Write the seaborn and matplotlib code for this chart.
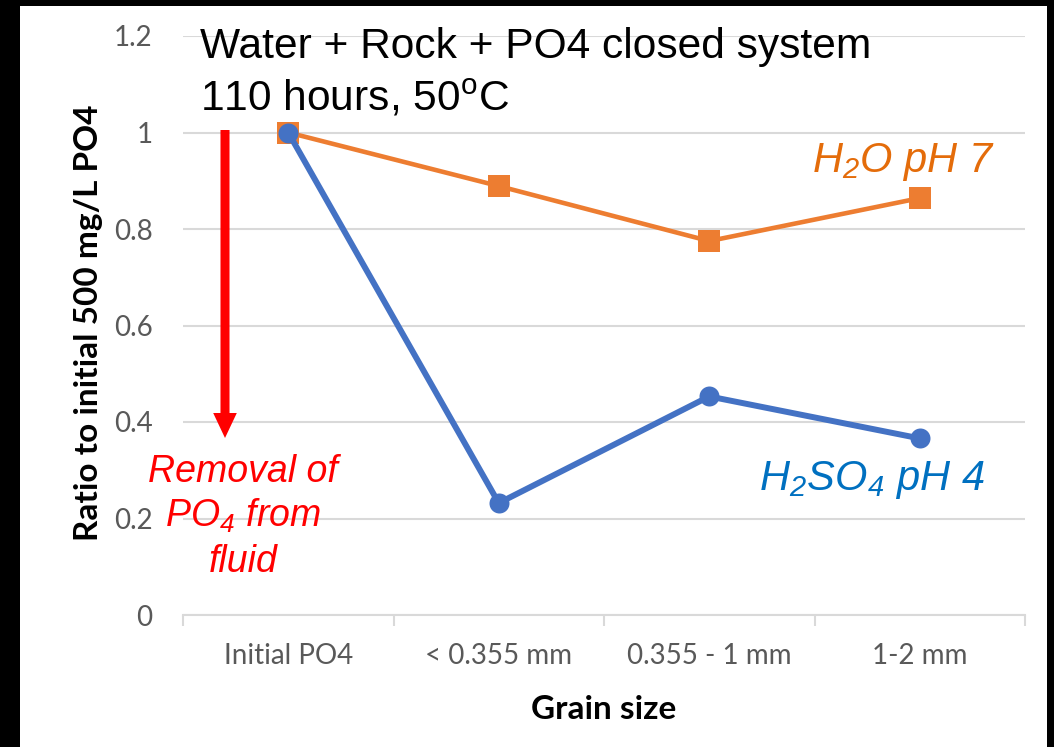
import pandas as pd
import seaborn as sns
import matplotlib
import matplotlib.pyplot as plt
from matplotlib.patches import Rectangle

matplotlib.use('agg')

# chart data
grain_sizes = ["Initial PO4", "< 0.355 mm", "0.355 - 1 mm", "1-2 mm"]
h2o_ph7 = [1.0, 0.889, 0.775, 0.864]
h2so4_ph4 = [1.0, 0.232, 0.453, 0.366]
y_ticks = [0, 0.2, 0.4, 0.6, 0.8, 1.0, 1.2]
y_tick_labels = ["0", "0.2", "0.4", "0.6", "0.8", "1", "1.2"]

sns.set_theme(style="white")
plt.rcParams['font.family'] = ['Lato', 'DejaVu Sans']
plt.rcParams['mathtext.fontset'] = 'custom'
plt.rcParams['mathtext.rm'] = 'Liberation Sans:italic'
plt.rcParams['mathtext.it'] = 'Liberation Sans:italic'
plt.rcParams['mathtext.sf'] = 'Liberation Sans'

df_h2o = pd.DataFrame({"Grain size": grain_sizes, "ratio": h2o_ph7})
df_acid = pd.DataFrame({"Grain size": grain_sizes, "ratio": h2so4_ph4})

fig = plt.figure(figsize=(10.54, 7.47), dpi=100, facecolor='black')
# white slide area inside black frame
fig.patches.append(Rectangle((20 / 1054, 0), (1047 - 20) / 1054, (747 - 6) / 747,
                             transform=fig.transFigure, facecolor='white',
                             edgecolor='none', zorder=-10))
ax = fig.add_axes([183 / 1054, 1 - 615 / 747, (1025 - 183) / 1054, (615 - 36) / 747])
ax.set_facecolor('none')
ax.set_zorder(1)

orange = '#ED7D31'
blue = '#4472C4'

sns.lineplot(data=df_h2o, x="Grain size", y="ratio", ax=ax, color=orange,
             linewidth=3.3, marker='s', markersize=16.5, markeredgewidth=0,
             sort=False, zorder=3)
sns.lineplot(data=df_acid, x="Grain size", y="ratio", ax=ax, color=blue,
             linewidth=4.3, marker='o', markersize=14.4, markeredgewidth=0,
             sort=False, zorder=4)

ax.set_ylim(0, 1.2)
ax.set_xlim(-0.5, 3.5)
ax.set_yticks(y_ticks)
ax.set_yticklabels(y_tick_labels)
ax.yaxis.grid(True, color='#D9D9D9', linewidth=1.5)
ax.set_axisbelow(True)
for s in ['top', 'right', 'left']:
    ax.spines[s].set_visible(False)
ax.spines['bottom'].set_color('#D9D9D9')
ax.spines['bottom'].set_linewidth(1.5)

ax.set_xticks(range(len(grain_sizes)))
ax.set_xticklabels(grain_sizes)
ax.set_xticks([-0.5, 0.5, 1.5, 2.5, 3.5], minor=True)
ax.tick_params(axis='x', which='major', length=0, pad=20, labelsize=20, labelcolor='#595959')
ax.tick_params(axis='x', which='minor', length=8, width=1.5, color='#D9D9D9', bottom=True)
ax.tick_params(axis='y', length=0, pad=22, labelsize=20, labelcolor='#595959')

ax.set_xlabel("Grain size", fontsize=24, fontweight='bold', color='black')
ax.xaxis.set_label_coords(0.5, -(695 - 615) / 579)
ax.set_ylabel("Ratio to initial 500 mg/L PO4", fontsize=24, fontweight='bold',
              color='black')
ax.yaxis.set_label_coords(-(183 - 103) / 842, 0.505)

# title text
fig.text(200 / 1054, 1 - 58 / 747, "Water + Rock + PO4 closed system",
         fontsize=30.6, family='Liberation Sans', color='black', va='baseline')
fig.text(200 / 1054, 1 - 110 / 747, r"110 hours, 50$^{\mathsf{o}}$C",
         fontsize=30.6, family='Liberation Sans', color='black', va='baseline')

# removal arrow
ax.annotate("", xy=(225 / 1054, 1 - 438 / 747), xytext=(225 / 1054, 1 - 130 / 747),
            xycoords='figure fraction', textcoords='figure fraction',
            arrowprops=dict(width=6.5, headwidth=17, headlength=18,
                            facecolor='#FF0000', edgecolor='none',
                            shrink=0))
red_lines = ["Removal of", r"PO$_4$ from", "fluid"]
red_base = [482, 527, 572]
for txt, yb in zip(red_lines, red_base):
    fig.text(243 / 1054, 1 - yb / 747, txt, fontsize=27, family='Liberation Sans',
             style='italic', color='#FF0000', ha='center', va='baseline')

# series labels
fig.text(995 / 1054, 1 - 172 / 747, r"H$_2$O pH 7", fontsize=30,
         family='Liberation Sans', style='italic', color='#E46C0A',
         ha='right', va='baseline')
fig.text(985 / 1054, 1 - 490 / 747, r"H$_2$SO$_4$ pH 4", fontsize=30,
         family='Liberation Sans', style='italic', color='#0070C0',
         ha='right', va='baseline')

fig.savefig("out.png", dpi=100, facecolor=fig.get_facecolor())
